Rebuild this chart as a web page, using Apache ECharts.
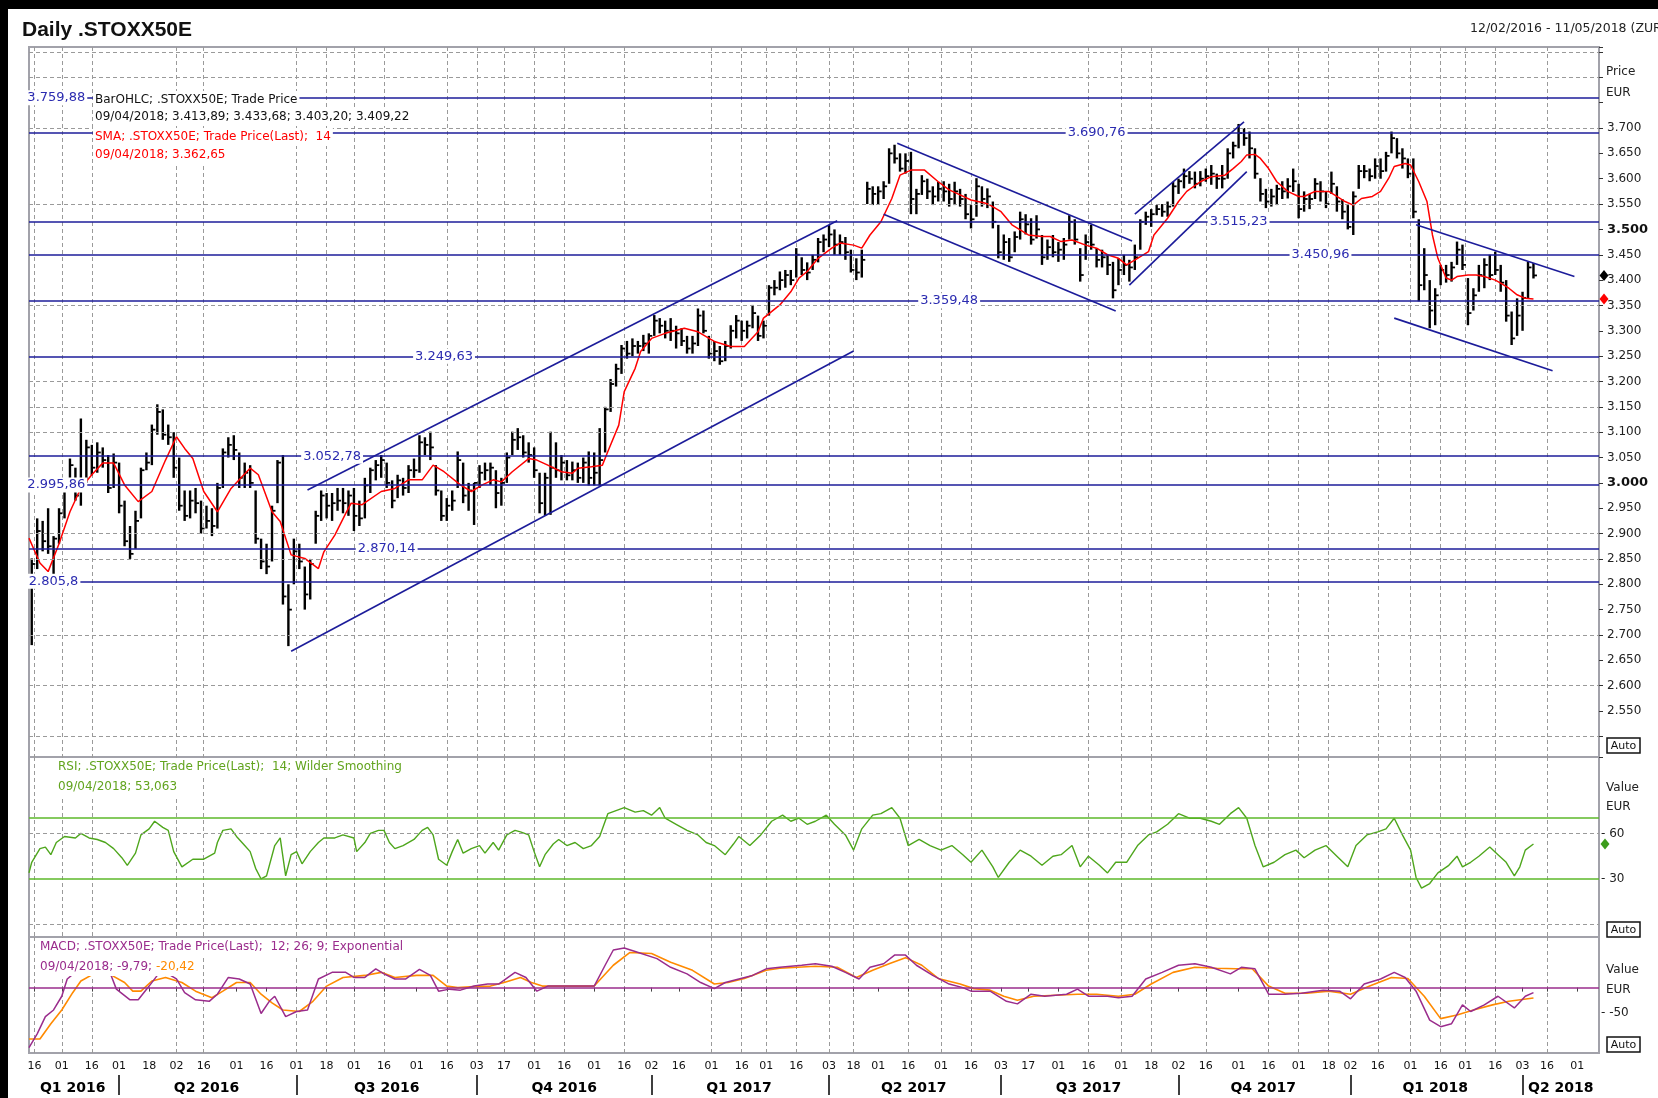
<!DOCTYPE html>
<html>
<head>
<meta charset="utf-8">
<title>Daily .STOXX50E</title>
<script src="https://cdn.jsdelivr.net/npm/echarts@6.0.0/dist/echarts.min.js"></script>
<style>
  html, body { margin: 0; padding: 0; background: #fff; }
  #chart { width: 1658px; height: 1098px; }
</style>
</head>
<body>
<div id="chart"></div>
<script>
// trading calendar 12/02/2016 - 11/05/2018, x values below are trading-day numbers from 12/02/2016
var holidays = ['2016-03-25', '2016-03-28', '2016-12-26', '2017-04-14', '2017-04-17',
  '2017-12-25', '2017-12-26', '2018-01-01', '2018-03-30', '2018-04-02'];

// dates that carry a dotted vertical grid line
var gridDates = ['2016-02-16', '2016-03-01', '2016-03-16', '2016-05-02', '2016-05-16', '2016-07-01',
  '2016-07-18', '2016-08-01', '2016-08-16', '2016-09-16', '2016-10-03', '2016-10-17', '2016-11-01',
  '2016-11-16', '2016-12-16', '2017-02-01', '2017-02-16', '2017-03-01', '2017-03-16', '2017-04-03',
  '2017-04-18', '2017-05-16', '2017-06-01', '2017-06-16', '2017-08-16', '2017-09-01', '2017-09-18',
  '2017-10-16', '2017-11-16', '2017-12-01', '2017-12-18', '2018-01-16', '2018-02-01', '2018-02-16',
  '2018-03-01', '2018-03-16', '2018-04-16'];

// price bars: [day, high, low, close]
var bars = [
  [1,2851,2680,2840],[3,2930,2830,2905],[5,2925,2865,2885],[7,2950,2860,2875],[9,2895,2815,2890],
  [11,2950,2880,2940],[13,2995,2930,2985],[15,3048,2985,3035],[17,3030,2965,2975],[19,3127,2955,2995],
  [21,3085,3000,3070],[23,3075,3015,3030],[25,3080,3020,3060],[27,3070,3030,3045],[29,3055,2980,2990],
  [31,3058,2990,3040],[33,3040,2940,2955],[35,2965,2875,2885],[37,2915,2850,2860],[39,2945,2870,2925],
  [41,3030,2930,3025],[43,3060,3025,3040],[45,3115,3035,3105],[47,3155,3095,3140],[49,3145,3085,3095],
  [51,3115,3075,3090],[53,3100,3010,3030],[55,3050,2945,2955],[57,2985,2925,2935],[59,2985,2930,2965],
  [61,2990,2940,2960],[63,2965,2900,2910],[65,2955,2910,2925],[67,2950,2895,2915],[69,3000,2910,2990],
  [71,3068,2990,3060],[73,3090,3050,3075],[75,3094,3045,3065],[77,3060,2990,3010],[79,3040,2990,3020],
  [81,3035,2990,3000],[83,2985,2880,2890],[85,2890,2830,2845],[87,2880,2820,2835],[89,2955,2845,2945],
  [91,3045,2960,3040],[93,3055,2760,2776],[95,2800,2678,2750],[97,2890,2800,2865],[99,2880,2830,2845],
  [101,2835,2750,2780],[103,2850,2770,2840],[105,2945,2880,2935],[107,2985,2925,2975],[109,2980,2930,2955],
  [111,2980,2925,2960],[113,2990,2945,2965],[115,2990,2940,2960],[117,2985,2935,2975],[119,2990,2905,2935],
  [121,2965,2915,2930],[123,3010,2930,2995],[125,3030,2980,3025],[127,3045,3005,3035],[129,3055,3010,3045],
  [131,3040,2990,3000],[133,3005,2950,2965],[135,3016,2970,3005],[137,3010,2975,2990],[139,3035,2980,3025],
  [141,3048,3010,3025],[143,3094,3020,3080],[145,3090,3055,3075],[147,3101,3045,3070],[149,3035,2975,2985],
  [151,2985,2925,2935],[153,2970,2925,2955],[155,2985,2945,2965],[157,3062,2990,3045],[159,3040,2960,2975],
  [161,3000,2945,2985],[163,3000,2917,3000],[165,3035,2990,3020],[167,3040,3005,3025],[169,3040,2996,3030],
  [171,3025,2950,2980],[173,3010,2955,3000],[175,3060,3000,3050],[177,3101,3055,3085],[179,3108,3065,3090],
  [181,3094,3050,3060],[183,3080,3040,3055],[185,3070,3010,3025],[187,3020,2940,2960],[189,3020,2935,3010],
  [191,3101,2937,3030],[193,3080,3010,3025],[195,3055,3005,3040],[197,3045,3005,3015],[199,3042,3005,3025],
  [201,3040,3000,3010],[203,3050,3000,3040],[205,3062,2995,3010],[207,3060,2995,3020],[209,3108,2995,3045],
  [211,3150,3060,3145],[213,3205,3140,3195],[215,3235,3190,3225],[217,3272,3215,3265],[219,3280,3245,3255],
  [221,3285,3250,3270],[223,3280,3255,3270],[225,3292,3260,3275],[227,3295,3255,3290],[229,3331,3290,3320],
  [231,3325,3295,3310],[233,3320,3285,3300],[235,3325,3280,3300],[237,3310,3265,3295],[239,3305,3270,3280],
  [241,3290,3255,3265],[243,3290,3255,3275],[245,3344,3270,3330],[247,3340,3295,3300],[249,3290,3245,3255],
  [251,3280,3240,3260],[253,3270,3233,3240],[255,3280,3240,3270],[257,3311,3265,3300],[259,3331,3285,3320],
  [261,3320,3280,3300],[263,3320,3285,3310],[265,3351,3305,3335],[267,3330,3280,3290],[269,3320,3285,3310],
  [271,3390,3330,3385],[273,3400,3370,3385],[275,3417,3380,3400],[277,3420,3385,3410],[279,3420,3390,3400],
  [281,3463,3405,3450],[283,3445,3410,3420],[285,3435,3400,3415],[287,3450,3420,3440],[289,3483,3435,3475],
  [291,3490,3455,3480],[293,3509,3465,3490],[295,3500,3450,3470],[297,3490,3450,3475],[299,3485,3440,3455],
  [301,3460,3415,3420],[303,3443,3400,3415],[305,3460,3405,3440],[307,3594,3550,3580],[309,3585,3548,3570],
  [311,3585,3550,3575],[313,3595,3560,3585],[315,3660,3590,3650],[317,3667,3630,3640],[319,3650,3614,3620],
  [321,3650,3610,3635],[323,3653,3530,3560],[325,3580,3530,3570],[327,3607,3568,3595],[329,3600,3560,3575],
  [331,3585,3548,3565],[333,3594,3555,3580],[335,3595,3555,3575],[337,3590,3545,3560],[339,3594,3548,3575],
  [341,3580,3545,3560],[343,3570,3520,3530],[345,3548,3502,3520],[347,3601,3525,3585],[349,3585,3545,3560],
  [351,3581,3542,3565],[353,3555,3502,3515],[355,3509,3443,3455],[357,3490,3440,3475],[359,3483,3436,3445],
  [361,3496,3455,3485],[363,3535,3480,3520],[365,3530,3490,3510],[367,3522,3470,3480],[369,3528,3482,3500],
  [371,3489,3430,3445],[373,3480,3440,3465],[375,3489,3445,3455],[377,3475,3436,3460],[379,3483,3440,3470],
  [381,3528,3480,3515],[383,3520,3470,3480],[385,3463,3397,3410],[387,3490,3440,3475],[389,3509,3460,3470],
  [391,3463,3425,3440],[393,3460,3425,3445],[395,3450,3410,3430],[397,3436,3364,3380],[399,3443,3390,3420],
  [401,3450,3410,3430],[403,3440,3397,3425],[405,3470,3420,3445],[407,3520,3460,3515],[409,3535,3509,3525],
  [411,3540,3505,3530],[413,3548,3528,3540],[415,3550,3525,3535],[417,3555,3525,3545],[419,3594,3545,3585],
  [421,3600,3570,3595],[423,3620,3581,3605],[425,3615,3590,3600],[427,3614,3581,3590],[429,3615,3585,3600],
  [431,3620,3594,3605],[433,3627,3588,3610],[435,3610,3580,3600],[437,3627,3581,3600],[439,3660,3600,3650],
  [441,3673,3640,3665],[443,3708,3660,3690],[445,3700,3665,3680],[447,3693,3640,3660],[449,3660,3600,3610],
  [451,3601,3555,3570],[453,3580,3542,3555],[455,3580,3545,3565],[457,3588,3548,3580],[459,3595,3560,3575],
  [461,3601,3561,3585],[463,3620,3574,3595],[465,3590,3522,3540],[467,3575,3535,3560],[469,3570,3540,3560],
  [471,3601,3560,3590],[473,3595,3555,3575],[475,3575,3542,3550],[477,3614,3570,3590],[479,3585,3535,3555],
  [481,3560,3520,3535],[483,3548,3500,3505],[485,3575,3489,3565],[487,3627,3580,3615],[489,3627,3601,3615],
  [491,3620,3595,3605],[493,3640,3600,3625],[495,3640,3600,3615],[497,3653,3614,3645],[499,3693,3650,3680],
  [501,3680,3640,3650],[503,3660,3620,3640],[505,3640,3601,3610],[507,3640,3522,3535],[509,3520,3358,3390],
  [511,3463,3380,3410],[513,3400,3305,3340],[515,3384,3311,3370],[517,3430,3390,3420],[519,3430,3395,3410],
  [521,3436,3397,3425],[523,3476,3430,3460],[525,3470,3420,3430],[527,3404,3311,3335],[529,3384,3340,3370],
  [531,3430,3377,3410],[533,3443,3384,3430],[535,3450,3400,3410],[537,3456,3410,3420],[539,3430,3377,3395],
  [541,3400,3318,3330],[543,3338,3272,3285],[545,3364,3290,3330],[547,3377,3300,3365],[549,3436,3364,3425],
  [551,3433.68,3403.2,3409.22]
];

// SMA 14: [day, value]
var sma = [
  [0,2891],[4,2842],[7,2825],[11,2880],[15,2943],[19,2990],[23,3016],[27,3039],[31,3039],[35,2996],
  [40,2963],[45,2983],[50,3045],[54,3091],[57,3068],[60,3048],[64,2983],[69,2943],[74,2989],[78,3012],
  [81,3029],[84,3016],[89,2943],[92,2924],[96,2858],[101,2851],[106,2831],[108,2864],[112,2897],[116,2940],
  [118,2960],[122,2957],[129,2983],[134,2989],[139,3006],[144,3006],[148,3035],[152,3022],[158,2996],[162,2983],
  [166,2996],[170,3006],[173,3002],[177,3022],[183,3048],[186,3045],[190,3035],[195,3022],[199,3019],[201,3029],
  [206,3032],[210,3035],[212,3062],[216,3114],[218,3180],[222,3226],[224,3259],[228,3285],[233,3295],[240,3305],
  [245,3298],[251,3279],[257,3269],[262,3269],[267,3298],[269,3325],[275,3351],[279,3377],[282,3404],[285,3417],
  [289,3443],[294,3463],[297,3473],[302,3469],[305,3463],[308,3489],[312,3515],[316,3561],[319,3607],[323,3617],
  [328,3617],[333,3594],[337,3578],[341,3568],[345,3558],[350,3552],[352,3548],[356,3535],[360,3509],[366,3489],
  [371,3486],[374,3486],[378,3476],[382,3479],[387,3469],[391,3463],[395,3450],[399,3443],[402,3430],[406,3443],
  [410,3456],[412,3489],[417,3522],[421,3555],[424,3575],[429,3594],[433,3604],[438,3607],[441,3620],[444,3634],
  [446,3647],[449,3648],[451,3640],[454,3620],[457,3594],[461,3575],[465,3565],[467,3565],[471,3575],[476,3575],
  [479,3565],[482,3555],[485,3548],[488,3561],[492,3565],[495,3575],[498,3601],[500,3624],[504,3630],[506,3627],
  [509,3594],[512,3555],[514,3489],[516,3443],[519,3404],[521,3400],[523,3407],[527,3410],[530,3410],[533,3407],
  [537,3400],[539,3394],[542,3384],[545,3371],[548,3364],[551,3362.65]
];

// RSI 14: [day, value]
var rsi = [
  [0,34],[1,41],[4,50],[6,51],[8,46],[10,54],[13,58],[17,57],[19,60],[22,57],[25,56],[28,54],[31,50],[34,44],
  [36,39],[39,47],[41,59],[44,63],[46,68],[49,64],[51,62],[53,48],[56,38],[60,43],[64,43],[68,47],[69,54],
  [71,62],[74,63],[76,58],[79,52],[81,48],[83,37],[85,30],[87,32],[90,52],[92,57],[94,32],[96,46],[98,48],
  [100,40],[103,48],[106,54],[108,57],[112,57],[115,59],[119,57],[120,48],[123,54],[125,60],[128,62],[130,62],
  [132,54],[134,50],[137,52],[141,56],[144,62],[146,64],[148,59],[150,43],[153,39],[155,48],[157,56],[159,47],
  [162,50],[165,52],[167,47],[170,54],[172,49],[175,59],[178,62],[180,61],[183,59],[185,48],[187,38],[189,46],
  [192,53],[194,56],[197,52],[200,54],[203,50],[206,52],[209,58],[212,73],[215,75],[218,77],[222,74],[225,75],
  [228,72],[231,77],[233,70],[237,66],[241,62],[245,59],[248,54],[251,52],[255,46],[258,53],[260,58],[264,52],
  [268,59],[272,68],[276,72],[279,68],[282,70],[285,66],[288,68],[292,72],[295,66],[299,59],[302,49],[305,63],
  [309,72],[312,73],[316,77],[319,70],[322,52],[326,56],[330,52],[334,49],[338,52],[342,46],[345,41],[349,49],
  [353,38],[355,31],[359,41],[363,49],[367,45],[371,39],[375,45],[378,46],[382,52],[385,38],[388,45],[392,39],
  [395,34],[398,41],[402,41],[406,52],[410,59],[413,61],[417,66],[421,73],[425,70],[429,70],[433,68],[436,66],
  [440,73],[443,77],[446,70],[449,52],[452,38],[456,41],[460,46],[464,49],[467,44],[471,49],[475,52],[479,45],
  [483,38],[486,52],[490,59],[494,61],[497,63],[500,70],[503,59],[506,49],[508,31],[510,24],[513,27],[516,34],
  [520,39],[523,45],[525,38],[528,41],[531,45],[535,51],[538,46],[541,41],[544,32],[546,38],[548,49],[551,53.06]
];

// MACD 12/26 line and 9-day signal: [day, value]
var macd = [
  [0,-118],[3,-91],[6,-57],[9,-44],[12,-17],[14,17],[18,35],[24,45],[30,25],[32,-3],[37,-24],[40,-24],[44,3],
  [47,24],[50,30],[54,17],[57,-10],[61,-24],[66,-27],[69,-13],[73,20],[77,17],[81,7],[85,-51],[88,-27],[90,-17],
  [94,-57],[98,-47],[102,-44],[106,17],[111,30],[116,30],[119,20],[123,20],[127,37],[130,27],[134,17],[138,17],
  [143,36],[147,24],[150,-7],[154,-3],[158,-5],[163,3],[168,7],[172,7],[178,30],[182,20],[186,-7],[190,3],
  [195,3],[201,3],[207,3],[211,44],[214,74],[218,78],[222,71],[230,57],[235,40],[241,27],[246,10],[251,-2],
  [255,10],[260,17],[265,24],[270,37],[275,40],[283,44],[288,47],[294,42],[299,30],[304,17],[308,40],[313,47],
  [317,64],[321,64],[325,44],[331,24],[337,7],[342,0],[345,-7],[352,-7],[358,-27],[362,-32],[367,-13],[372,-17],
  [380,-13],[384,-3],[388,-17],[395,-17],[399,-20],[404,-17],[409,17],[415,30],[421,44],[427,47],[433,40],
  [440,27],[444,40],[449,37],[454,-13],[460,-13],[466,-11],[474,-5],[480,-7],[484,-22],[489,7],[495,17],[500,30],
  [504,20],[508,-7],[513,-64],[517,-77],[521,-71],[525,-34],[528,-47],[533,-34],[538,-17],[544,-40],[548,-17],
  [551,-9.79]
];
var signal = [
  [0,-101],[4,-101],[8,-71],[12,-44],[16,-10],[19,13],[24,28],[30,25],[35,10],[38,-7],[41,-7],[45,13],[50,20],
  [56,10],[61,-7],[67,-20],[71,-7],[76,10],[81,10],[85,-13],[89,-30],[93,-44],[99,-47],[104,-27],[109,3],
  [115,20],[123,24],[129,30],[134,20],[142,24],[148,24],[153,3],[157,0],[163,2],[169,3],[174,10],[180,20],
  [184,10],[188,3],[199,3],[207,3],[214,44],[220,69],[228,67],[235,50],[243,34],[251,7],[256,10],[262,18],
  [270,34],[275,38],[288,42],[296,40],[303,20],[309,34],[315,47],[321,59],[327,44],[333,18],[341,7],[346,-2],
  [352,-5],[357,-17],[362,-25],[368,-17],[376,-15],[384,-13],[391,-13],[399,-17],[405,-13],[411,7],[419,30],
  [427,40],[435,38],[442,37],[448,37],[454,3],[460,-11],[468,-11],[476,-7],[484,-13],[491,3],[499,20],[505,18],
  [511,-17],[517,-61],[523,-54],[529,-44],[536,-34],[542,-27],[551,-20.42]
];

// horizontal support / resistance levels, their tags and where the tag sits
var levels = [3759.88, 3690.76, 3515.23, 3450.96, 3359.48, 3249.63, 3052.78, 2995.86, 2870.14, 2805.8];
var levelText = ['3.759,88', '3.690,76', '3.515,23', '3.450,96', '3.359,48', '3.249,63', '3.052,78',
  '2.995,86', '2.870,14', '2.805,8'];
var levelTagDay = [10, 391, 443, 473, 337, 152, 111, 10, 131, 9];
// dotted horizontal grid levels on the price panel
var gridLevels = [3850, 3800, 3700, 3550, 3350, 3200, 3150, 3100, 2900, 2850, 2700, 2600, 2500];
// trend channels: [[day, price], [day, price]]
var channels = [
  [[96, 2668], [302, 3260]], [[102, 2986], [296, 3517]],
  [[313, 3530], [398, 3339]], [[318, 3670], [404, 3477]],
  [[403, 3390], [446, 3614]], [[405, 3530], [445, 3712]],
  [[500, 3325], [558, 3221]], [[508, 3509], [566, 3407]]
];

var days = [];
(function () {
  var d = new Date(Date.UTC(2016, 1, 12));
  var end = Date.UTC(2018, 4, 11);
  while (d.getTime() <= end) {
    var s = d.toISOString().slice(0, 10);
    var wd = d.getUTCDay();
    if (wd !== 0 && wd !== 6 && holidays.indexOf(s) < 0) days.push(s);
    d.setUTCDate(d.getUTCDate() + 1);
  }
})();

function mon(i) { return +days[i].slice(5, 7); }
function dom(i) { return +days[i].slice(8, 10); }
function isLabel(i) {
  if (i === 0) return false;
  return mon(i) !== mon(i - 1) || (dom(i) >= 16 && dom(i - 1) < 16);
}
function isQStart(i) {
  return i > 0 && mon(i) !== mon(i - 1) && (mon(i) - 1) % 3 === 0;
}
var qStarts = [0];
days.forEach(function (d, i) { if (isQStart(i)) qStarts.push(i); });
var qMid = {};
qStarts.forEach(function (s, k) {
  var e = k + 1 < qStarts.length ? qStarts[k + 1] - 1 : days.length - 1;
  qMid[Math.round((s + e) / 2)] = true;
});
var gridSet = {};
gridDates.forEach(function (g) { gridSet[days.indexOf(g)] = true; });

var FONT = '"DejaVu Sans", Verdana, sans-serif';
var TITLE_FONT = '"Liberation Sans", Arial, sans-serif';
var GRID_LINE = { color: '#9a9a9a', type: [4, 3], width: 1 };

function catAxis(grid) {
  return {
    type: 'category', gridIndex: grid, data: days, boundaryGap: false,
    axisLine: { show: false }, axisTick: { show: false }, axisLabel: { show: false },
    splitLine: { show: true, interval: function (i) { return !!gridSet[i]; }, lineStyle: GRID_LINE }
  };
}

function drawBar(params, api) {
  var i = api.value(0);
  var hi = api.coord([i, api.value(1)]);
  var lo = api.coord([i, api.value(2)]);
  var cl = api.coord([i, api.value(3)]);
  return {
    type: 'group',
    children: [
      { type: 'line', shape: { x1: hi[0], y1: hi[1], x2: lo[0], y2: lo[1] }, style: { stroke: '#000', lineWidth: 2.4 } },
      { type: 'line', shape: { x1: cl[0], y1: cl[1], x2: cl[0] + 3.5, y2: cl[1] }, style: { stroke: '#000', lineWidth: 1.8 } }
    ]
  };
}

function txt(x, y, text, color, size, bg) {
  return {
    type: 'text', x: x, y: y, z: 100,
    style: {
      text: text, fill: color, font: (size || 12) + 'px ' + FONT, verticalAlign: 'middle',
      backgroundColor: bg ? '#fff' : null, padding: bg ? [3, 2] : 0
    }
  };
}
function autoBox(y) {
  return {
    type: 'group', x: 1607, y: y, z: 100,
    children: [
      { type: 'rect', shape: { x: 0, y: 0, width: 33, height: 15 }, style: { fill: '#fff', stroke: '#111', lineWidth: 1.5 } },
      { type: 'text', x: 16.5, y: 8, style: { text: 'Auto', fill: '#111', font: '11px ' + FONT, align: 'center', verticalAlign: 'middle' } }
    ]
  };
}

var chart = echarts.init(document.getElementById('chart'));
chart.setOption({
  animation: false,
  backgroundColor: '#fff',
  textStyle: { fontFamily: FONT },
  grid: [
    { left: 29, width: 1570, top: 47, height: 710, show: true, borderColor: '#a2a2aa', borderWidth: 2, backgroundColor: '#fff' },
    { left: 29, width: 1570, top: 757, height: 180, show: true, borderColor: '#a2a2aa', borderWidth: 2, backgroundColor: '#fff' },
    { left: 29, width: 1570, top: 937, height: 116, show: true, borderColor: '#a2a2aa', borderWidth: 2, backgroundColor: '#fff' }
  ],
  xAxis: [
    catAxis(0),
    catAxis(1),
    {
      type: 'category', gridIndex: 2, data: days, boundaryGap: false, position: 'bottom',
      axisLine: { show: false },
      axisTick: { show: true, interval: isLabel, length: 4, lineStyle: { color: '#444' } },
      axisLabel: {
        interval: isLabel, margin: 8, color: '#111', fontSize: 11, fontFamily: FONT,
        formatter: function (v) { return v.slice(8, 10); }
      },
      splitLine: { show: true, interval: function (i) { return !!gridSet[i]; }, lineStyle: GRID_LINE }
    },
    {
      type: 'category', gridIndex: 2, data: days, boundaryGap: false, position: 'bottom', offset: 22,
      axisLine: { show: false },
      axisTick: { show: true, interval: isQStart, length: 20, lineStyle: { color: '#000', width: 1.5 } },
      axisLabel: {
        interval: function (i) { return !!qMid[i]; }, margin: 6, color: '#000', fontSize: 14, fontWeight: 'bold',
        fontFamily: FONT,
        formatter: function (v) { return 'Q' + (Math.floor((+v.slice(5, 7) - 1) / 3) + 1) + ' ' + v.slice(0, 4); }
      },
      splitLine: { show: false }
    }
  ],
  yAxis: [
    {
      type: 'value', gridIndex: 0, position: 'right', min: 2459.3, max: 3859.8, splitNumber: 28,
      axisLine: { show: false }, splitLine: { show: false },
      axisTick: { show: true, length: 4, lineStyle: { color: '#333' } },
      axisLabel: {
        margin: 8, color: '#222', fontSize: 12, fontFamily: FONT,
        formatter: function (v) {
          if (v < 2550 || v > 3700 || Math.abs(v % 50) > 0.01) return '';
          var s = (v / 1000).toFixed(3);
          return v % 500 === 0 ? '{b|' + s + '}' : s;
        },
        rich: { b: { fontWeight: 'bold', fontSize: 13, color: '#111', fontFamily: FONT } }
      }
    },
    {
      type: 'value', gridIndex: 1, position: 'right', min: -8.2, max: 110.3, splitNumber: 12,
      axisLine: { show: false }, splitLine: { show: false }, axisTick: { show: false },
      axisLabel: {
        margin: 2, color: '#222', fontSize: 12, fontFamily: FONT,
        formatter: function (v) { return (v === 30 || v === 60) ? '- ' + v : ''; }
      }
    },
    {
      type: 'value', gridIndex: 2, position: 'right', min: -128.7, max: 99.6, splitNumber: 5,
      axisLine: { show: false }, splitLine: { show: false }, axisTick: { show: false },
      axisLabel: {
        margin: 2, color: '#222', fontSize: 12, fontFamily: FONT,
        formatter: function (v) { return v === -50 ? '- -50' : ''; }
      }
    }
  ],
  series: [
    {
      type: 'line', xAxisIndex: 0, yAxisIndex: 0, data: [], z: 1, silent: true,
      markLine: {
        silent: true, symbol: ['none', 'none'], label: { show: false },
        lineStyle: GRID_LINE,
        data: gridLevels.map(function (v) { return { yAxis: v }; })
      }
    },
    {
      type: 'line', xAxisIndex: 0, yAxisIndex: 0, data: [], z: 2, silent: true,
      markLine: {
        silent: true, symbol: ['none', 'none'], label: { show: false },
        lineStyle: { color: '#1c1c9a', type: 'solid', width: 1.6 },
        data: levels.map(function (v) { return { yAxis: v }; }).concat(channels.map(function (c) {
          return [{ coord: c[0] }, { coord: c[1] }];
        }))
      }
    },
    {
      type: 'custom', xAxisIndex: 0, yAxisIndex: 0, data: bars, z: 3,
      encode: { x: 0, y: [1, 2, 3] }, renderItem: drawBar
    },
    {
      type: 'line', xAxisIndex: 0, yAxisIndex: 0, data: sma, z: 4, showSymbol: false,
      lineStyle: { color: '#ff0000', width: 1.5 },
      markPoint: {
        symbol: 'diamond', symbolSize: [9, 11], symbolOffset: [5, 0], label: { show: false },
        data: [
          { coord: [575, 3409.22], itemStyle: { color: '#000' } },
          { coord: [575, 3362.65], itemStyle: { color: '#ff0000' } }
        ]
      }
    },
    {
      type: 'line', xAxisIndex: 0, yAxisIndex: 0, data: [], z: 20, silent: true,
      markPoint: {
        symbol: 'rect', symbolSize: 1, itemStyle: { color: 'rgba(0,0,0,0)' },
        label: {
          show: true, position: 'inside', formatter: '{b}', color: '#2b2bb0', fontSize: 13, fontFamily: FONT,
          backgroundColor: '#fff', padding: [1, 2]
        },
        data: levels.map(function (v, k) { return { name: levelText[k], coord: [levelTagDay[k], v] }; })
      }
    },
    {
      type: 'line', xAxisIndex: 1, yAxisIndex: 1, data: rsi, z: 4, showSymbol: false,
      lineStyle: { color: '#4ea61c', width: 1.4 },
      markLine: {
        silent: true, symbol: ['none', 'none'], label: { show: false },
        data: [
          { yAxis: 70, lineStyle: { color: '#5cb82a', type: 'solid', width: 1.6 } },
          { yAxis: 30, lineStyle: { color: '#5cb82a', type: 'solid', width: 1.6 } },
          { yAxis: 60, lineStyle: GRID_LINE },
          { yAxis: 0, lineStyle: GRID_LINE }
        ]
      },
      markPoint: {
        symbol: 'diamond', symbolSize: [9, 11], symbolOffset: [6, 0], label: { show: false },
        itemStyle: { color: '#3c9c1c' },
        data: [{ coord: [575, 53.06] }]
      }
    },
    {
      type: 'line', xAxisIndex: 2, yAxisIndex: 2, data: signal, z: 4, showSymbol: false,
      lineStyle: { color: '#ff8a00', width: 1.6 }
    },
    {
      type: 'line', xAxisIndex: 2, yAxisIndex: 2, data: macd, z: 5, showSymbol: false,
      lineStyle: { color: '#9a2c8c', width: 1.5 },
      markLine: {
        silent: true, symbol: ['none', 'none'], label: { show: false },
        lineStyle: { color: '#9a2c8c', type: 'solid', width: 1.6 },
        data: [{ yAxis: 0 }]
      }
    }
  ],
  graphic: [
    { type: 'rect', z: 200, shape: { x: 0, y: 0, width: 1658, height: 9 }, style: { fill: '#000' } },
    { type: 'rect', z: 200, shape: { x: 0, y: 0, width: 8, height: 1098 }, style: { fill: '#000' } },
    { type: 'text', x: 22, y: 30, z: 100, style: { text: 'Daily .STOXX50E', fill: '#111', font: 'bold 21px ' + TITLE_FONT, verticalAlign: 'middle' } },
    txt(1470, 29, '12/02/2016 - 11/05/2018 (ZURICH)', '#222', 12.5),
    txt(93, 100, 'BarOHLC; .STOXX50E; Trade Price', '#111', 12, true),
    txt(93, 117, '09/04/2018; 3.413,89; 3.433,68; 3.403,20; 3.409,22', '#111', 12, true),
    txt(93, 137, 'SMA; .STOXX50E; Trade Price(Last);  14', '#ff0000', 12, true),
    txt(93, 155, '09/04/2018; 3.362,65', '#ff0000', 12, true),
    txt(56, 767, 'RSI; .STOXX50E; Trade Price(Last);  14; Wilder Smoothing', '#62a41e', 12, true),
    txt(56, 787, '09/04/2018; 53,063', '#62a41e', 12, true),
    txt(38, 947, 'MACD; .STOXX50E; Trade Price(Last);  12; 26; 9; Exponential', '#9a2c8c', 12, true),
    {
      type: 'text', x: 38, y: 967, z: 100,
      style: {
        text: '{p|09/04/2018; -9,79; }{o|-20,42}', font: '12px ' + FONT, verticalAlign: 'middle',
        backgroundColor: '#fff', padding: [3, 2],
        rich: { p: { fill: '#9a2c8c', font: '12px ' + FONT }, o: { fill: '#ff8a00', font: '12px ' + FONT } }
      }
    },
    txt(1606, 72, 'Price', '#222', 12),
    txt(1606, 93, 'EUR', '#222', 12),
    txt(1606, 788, 'Value', '#222', 12),
    txt(1606, 807, 'EUR', '#222', 12),
    txt(1606, 970, 'Value', '#222', 12),
    txt(1606, 990, 'EUR', '#222', 12),
    autoBox(738),
    autoBox(922),
    autoBox(1037)
  ]
});
</script>
</body>
</html>
